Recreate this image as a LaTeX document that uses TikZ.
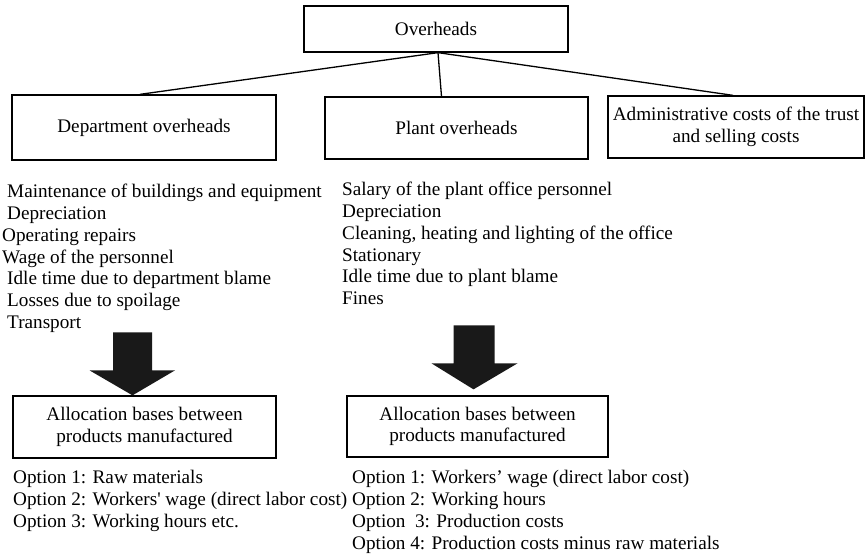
\documentclass[tikz,border=0pt]{standalone}
\usepackage{fontspec}
\setmainfont{Liberation Serif}
\usetikzlibrary{calc}
\begin{document}
\begin{tikzpicture}[x=1pt,y=-1pt,
  box/.style={draw, line width=1.3pt, align=center, inner sep=2pt, font=\fontsize{19.2}{21.6}\selectfont},
  item/.style={anchor=base west, inner sep=0pt, font=\fontsize{19.2}{21.6}\selectfont},
  conn/.style={line width=1.3pt},
  bigarrow/.style={fill=black!90, draw=none}]
\useasboundingbox (0,0) rectangle (867,556);

% boxes
\node[box, minimum width=264pt, minimum height=46pt] (ov) at (436,29) {Overheads};
\node[box, minimum width=264pt, minimum height=65pt] (dep) at (144,127.5) {Department overheads};
\node[box, minimum width=263pt, minimum height=62pt] (pl) at (456.5,128) {Plant overheads};
\node[box, minimum width=256pt, minimum height=62pt] (adm) at (736,127) {Administrative costs of the trust\\and selling costs};
\node[box, minimum width=263pt, minimum height=62pt] (al1) at (144.5,427) {Allocation bases between\\products manufactured};
\node[box, minimum width=261pt, minimum height=61pt] (al2) at (477.5,426.5) {Allocation bases between\\products manufactured};

% connectors
\coordinate (hub) at ($(ov.south)+(2,0)$);
\coordinate (depin) at ($(dep.north)+(-4,0)$);
\coordinate (plin) at ($(pl.north)+(-15,0)$);
\coordinate (admin) at ($(adm.north)+(-3,0)$);
\draw[conn] (hub) -- (depin);
\draw[conn] (hub) -- (plin);
\draw[conn] (hub) -- (admin);

% department list
\node[item] (d1) at (7,197) {Maintenance of buildings and equipment};
\node[item] (d2) at (7,219) {Depreciation};
\node[item] (d3) at (2,241) {Operating repairs};
\node[item] (d4) at (2,263) {Wage of the personnel};
\node[item] (d5) at (7,284.5) {Idle time due to department blame};
\node[item] (d6) at (7,306.5) {Losses due to spoilage};
\node[item] (d7) at (7,328.5) {Transport};

% plant list
\node[item] (p1) at (342,196) {Salary of the plant office personnel};
\node[item] (p2) at (342,218) {Depreciation};
\node[item] (p3) at (342,239.5) {Cleaning, heating and lighting of the office};
\node[item] (p4) at (342,261) {Stationary};
\node[item] (p5) at (342,282.5) {Idle time due to plant blame};
\node[item] (p6) at (342,304) {Fines};

% big arrows
\coordinate (a1) at ($(al1.north)+(-12,0)$);
\fill[bigarrow] ($(a1)+(-19.5,-63)$) -- ($(a1)+(19.5,-63)$) -- ($(a1)+(19.5,-25)$) -- ($(a1)+(42.5,-25)$)
  -- (a1) -- ($(a1)+(-43,-25)$) -- ($(a1)+(-19.5,-25)$) -- cycle;
\coordinate (a2) at ($(al2.north)+(-4,-6)$);
\fill[bigarrow] ($(a2)+(-20,-64)$) -- ($(a2)+(21,-64)$) -- ($(a2)+(21,-26)$) -- ($(a2)+(44,-26)$)
  -- (a2) -- ($(a2)+(-42,-26)$) -- ($(a2)+(-20,-26)$) -- cycle;

% options
\node[item] (o1) at (13,483) {Option 1: Raw materials};
\node[item] (o2) at (13,505) {Option 2: Workers\textquotesingle{} wage (direct labor cost)};
\node[item] (o3) at (13,527) {Option 3: Working hours etc.};
\node[item] (q1) at (352,483) {Option 1: Workers’ wage (direct labor cost)};
\node[item] (q2) at (352,505) {Option 2: Working hours};
\node[item] (q3) at (352,527) {Option\ \ 3: Production costs};
\node[item] (q4) at (352,549) {Option 4: Production costs minus raw materials};
\end{tikzpicture}
\end{document}
